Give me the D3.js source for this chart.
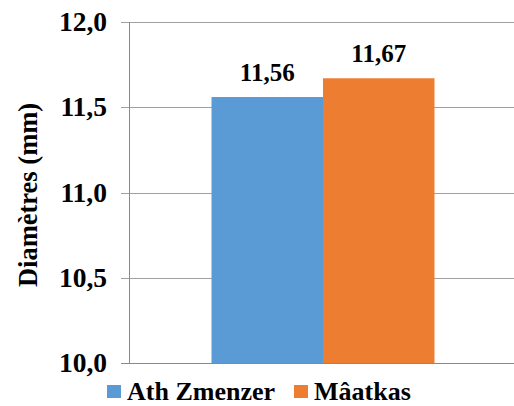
<!DOCTYPE html>
<html><head><meta charset="utf-8">
<script src="https://cdn.jsdelivr.net/npm/d3@7"></script>
<style>body{margin:0;background:#fff}svg{display:block}</style>
</head><body><svg id="c" width="514" height="406"></svg>
<script>
const categories = ["Ath Zmenzer", "Mâatkas"];
const values = [11.56, 11.67];
const labels = ["11,56", "11,67"];
const colors = ["#5B9BD5", "#ED7D31"];
const yTicks = [10.0, 10.5, 11.0, 11.5, 12.0];
const yTickLabels = ["10,0", "10,5", "11,0", "11,5", "12,0"];
const yTitle = "Diamètres (mm)";

(function () {
const FF = "Liberation Serif";
const svg = d3.select("#c");
const pL = 129, pR = 517, pT = 22, pB = 363;
const y = d3.scaleLinear().domain([10, 12]).range([pB, pT]);
const xg = d3.scaleBand().domain(["g"]).range([pL, pR]).paddingInner(0).paddingOuter(0.37);
const x = d3.scaleBand().domain(categories).range([xg("g"), xg("g") + xg.bandwidth()]);

svg.append("g").selectAll("line").data(yTicks).join("line")
  .attr("x1", pL - 8).attr("x2", 514)
  .attr("y1", d => Math.round(y(d)) + 0.5).attr("y2", d => Math.round(y(d)) + 0.5)
  .attr("stroke", d => d === 10 ? "#898989" : "#a0a0a0").attr("stroke-width", 1);
svg.append("line").attr("x1", pL + 0.5).attr("x2", pL + 0.5)
  .attr("y1", y(12)).attr("y2", y(10)).attr("stroke", "#898989");

svg.append("g").selectAll("text").data(yTicks).join("text")
  .attr("x", 107).attr("y", d => y(d) + 9)
  .attr("text-anchor", "end").attr("font-family", FF).attr("font-weight", "bold").attr("font-size", 27.5)
  .text((d, i) => yTickLabels[i]);

svg.append("text").attr("transform", "translate(37,195) rotate(-90)")
  .attr("text-anchor", "middle").attr("font-family", FF).attr("font-weight", "bold").attr("font-size", 26.5)
  .text(yTitle);

svg.append("g").selectAll("rect").data(values).join("rect")
  .attr("x", (d, i) => x(categories[i])).attr("width", x.bandwidth())
  .attr("y", d => y(d)).attr("height", d => y(10) - y(d))
  .attr("fill", (d, i) => colors[i]);

svg.append("g").selectAll("text").data(values).join("text")
  .attr("x", (d, i) => x(categories[i]) + x.bandwidth() / 2)
  .attr("y", d => y(d) - 16).attr("text-anchor", "middle")
  .attr("font-family", FF).attr("font-weight", "bold").attr("font-size", 25)
  .text((d, i) => labels[i]);

const legX = [107, 294];
const lg = svg.append("g").selectAll("g").data(categories).join("g")
  .attr("transform", (d, i) => `translate(${legX[i]},385)`);
lg.append("rect").attr("width", 14).attr("height", 13).attr("fill", (d, i) => colors[i]);
lg.append("text").attr("x", 20).attr("y", 15)
  .attr("font-family", FF).attr("font-weight", "bold").attr("font-size", 26).text(d => d);
})();
</script></body></html>
